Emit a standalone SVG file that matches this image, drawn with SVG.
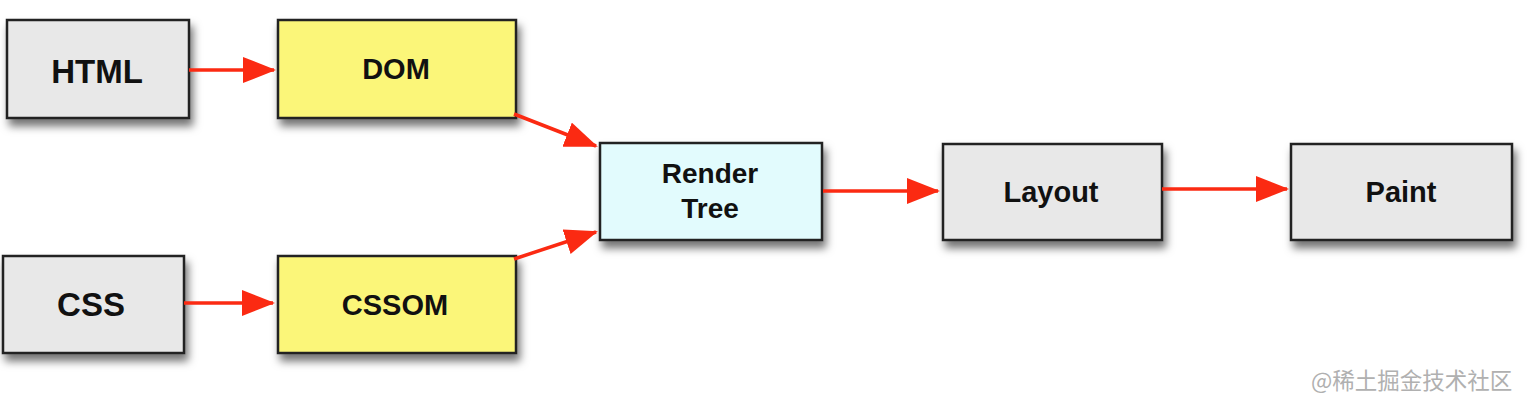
<svg xmlns="http://www.w3.org/2000/svg" width="1530" height="406" viewBox="0 0 1530 406">
<defs>
<filter id="sh" x="-10%" y="-20%" width="130%" height="150%">
<feDropShadow dx="3" dy="7" stdDeviation="4" flood-color="#000" flood-opacity="0.55"/>
</filter>
<marker id="ah" markerUnits="userSpaceOnUse" markerWidth="36" markerHeight="28" refX="31" refY="13" orient="auto">
<path d="M0,0 L33,13 L0,26 z" fill="#fb2a12"/>
</marker>
<style>
.box{stroke:#222;stroke-width:2.5;filter:url(#sh)}
.g{fill:#e8e8e8}.y{fill:#fbf679}.b{fill:#e2fbfd}
text{font-family:"Liberation Sans",Arial,sans-serif;font-weight:bold;fill:#111;text-anchor:middle}
.c path{stroke:#fb2a12;stroke-width:3.5;fill:none;marker-end:url(#ah)}
.wm{font-family:"Noto Sans CJK SC",sans-serif;font-weight:normal;fill:#b0b0b0;font-size:22.5px;text-anchor:start}
</style>
</defs>
<rect width="1530" height="406" fill="#fff"/>
<g id="html"><rect class="box g" x="7" y="20" width="182" height="98"/><text x="97" y="83" font-size="33">HTML</text></g>
<g id="dom"><rect class="box y" x="278" y="20" width="238" height="98"/><text x="396" y="79" font-size="29">DOM</text></g>
<g id="css"><rect class="box g" x="3" y="256" width="181" height="97"/><text x="91" y="316" font-size="33">CSS</text></g>
<g id="cssom"><rect class="box y" x="278" y="256" width="238" height="97"/><text x="395" y="315" font-size="29">CSSOM</text></g>
<g id="render"><rect class="box b" x="600" y="143" width="222" height="97"/><text x="710" y="183" font-size="28">Render</text><text x="710" y="218" font-size="28">Tree</text></g>
<g id="layout"><rect class="box g" x="943" y="144" width="219" height="96"/><text x="1051" y="202" font-size="29">Layout</text></g>
<g id="paint"><rect class="box g" x="1291" y="144" width="221" height="96"/><text x="1401" y="202" font-size="29">Paint</text></g>
<g class="c" id="connectors">
<path d="M189,70 L274,70"/>
<path d="M184,303 L273,303"/>
<path d="M514,114 L596,146"/>
<path d="M514,259 L596,232"/>
<path d="M823,191 L938,191"/>
<path d="M1162,189 L1287,189"/>
</g>
<text class="wm" x="1311" y="389">@稀土掘金技术社区</text>
</svg>
